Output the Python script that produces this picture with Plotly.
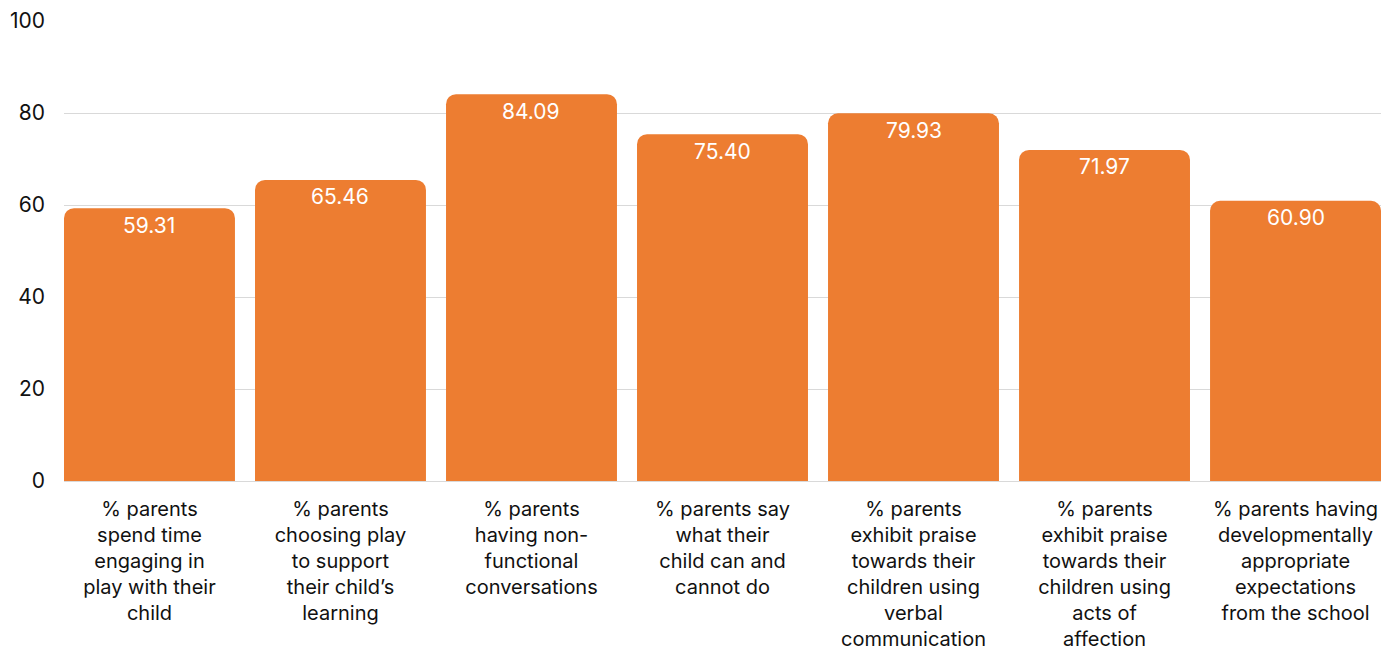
import plotly.graph_objects as go

categories = [
    "% parents<br>spend time<br>engaging in<br>play with their<br>child",
    "% parents<br>choosing play<br>to support<br>their child’s<br>learning",
    "% parents<br>having non-<br>functional<br>conversations",
    "% parents say<br>what their<br>child can and<br>cannot do",
    "% parents<br>exhibit praise<br>towards their<br>children using<br>verbal<br>communication",
    "% parents<br>exhibit praise<br>towards their<br>children using<br>acts of<br>affection",
    "% parents having<br>developmentally<br>appropriate<br>expectations<br>from the school",
]
values = [59.31, 65.46, 84.09, 75.40, 79.93, 71.97, 60.90]
y_ticks = [0, 20, 40, 60, 80, 100]

bar_w = 0.895
x_pos = list(range(len(categories)))
fig = go.Figure(go.Bar(
    x=x_pos,
    y=values,
    width=bar_w,
    marker=dict(color="#ED7D31", cornerradius=10, line=dict(width=0)),
    hoverinfo="skip",
))

for xi, v in zip(x_pos, values):
    fig.add_annotation(
        x=xi, y=v, text=f"{v:.2f}", showarrow=False,
        yanchor="middle", yshift=-17,
        font=dict(color="white", size=21, family="Inter"),
    )

# the page body adds an 8px offset, so margins are reduced accordingly
fig.update_layout(
    width=1392, height=648,
    margin=dict(l=56, r=19, t=13, b=175),
    paper_bgcolor="white", plot_bgcolor="white",
    showlegend=False,
    font=dict(family="Inter", color="#111111"),
    xaxis=dict(
        tickmode="array",
        tickvals=x_pos,
        ticktext=categories,
        range=[-bar_w / 2, len(categories) - 1 + bar_w / 2],
        showgrid=False, zeroline=False, showline=False,
        tickfont=dict(size=20, family="Inter", color="#111111"),
        tickangle=0,
        ticks="",
        ticklabelstandoff=14,
        automargin=False,
    ),
    yaxis=dict(
        range=[0, 100],
        tickvals=y_ticks,
        showgrid=True, gridcolor="#d9d9d9", gridwidth=1,
        zeroline=True, zerolinecolor="#d9d9d9", zerolinewidth=1,
        showline=False, ticks="",
        tickfont=dict(size=21, family="Inter", color="#111111"),
        ticklabelstandoff=18,
        automargin=False,
    ),
)

fig.write_html("out.html")
